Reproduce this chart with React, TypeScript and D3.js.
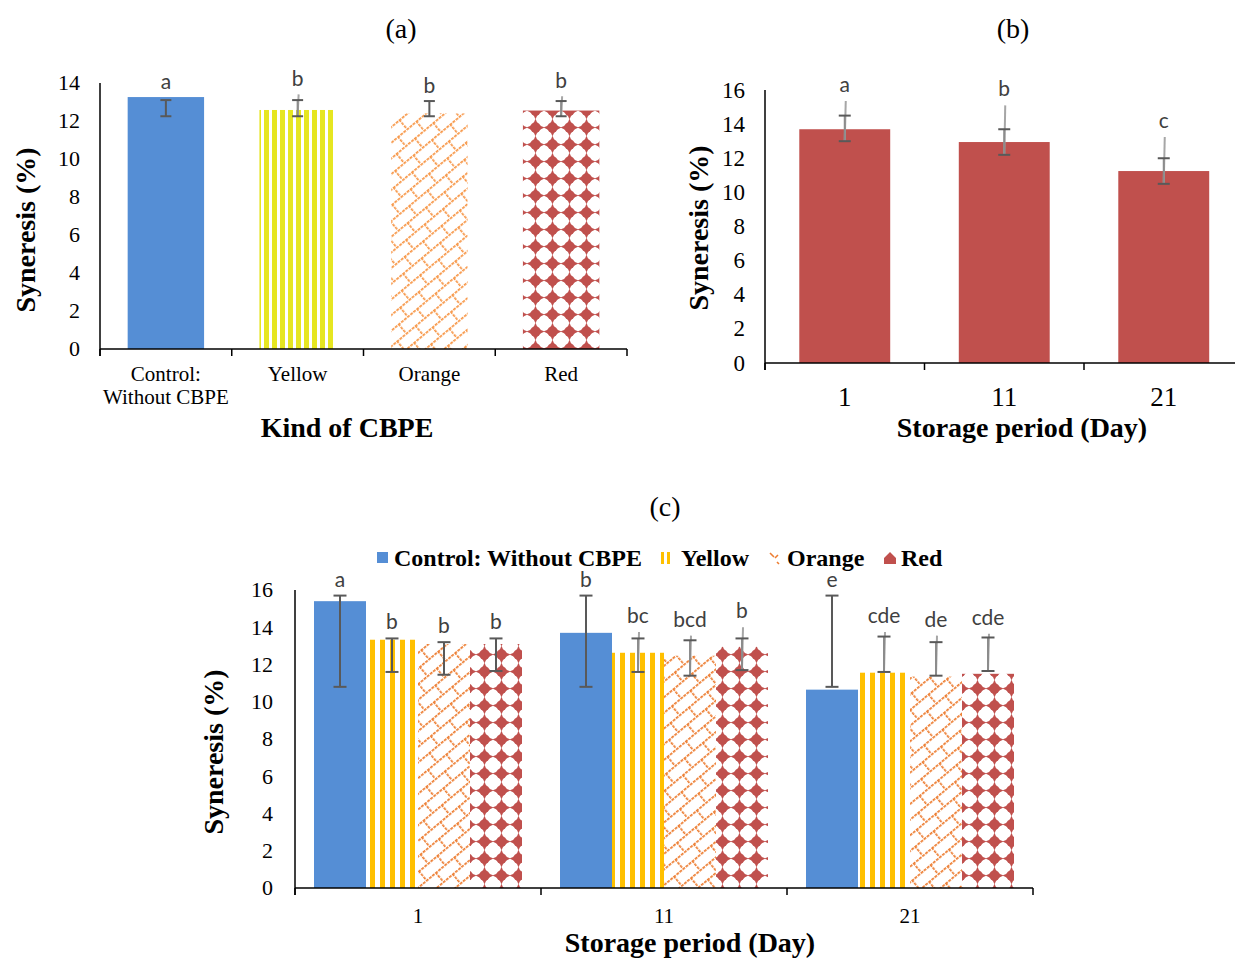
import React, { useEffect, useRef } from "react";
import * as d3 from "d3";

// (a) kind of CBPE
const kinds = ["Control: Without CBPE", "Yellow", "Orange", "Red"];
const kindLabelLines = [["Control:", "Without CBPE"], ["Yellow"], ["Orange"], ["Red"]];
const kindMeans = [13.26, 12.58, 12.4, 12.55];
const kindHigh = [13.1, 13.1, 13.05, 13.05];
const kindLow = [12.25, 12.25, 12.25, 12.25];
const kindExt = [null, 13.4, null, 13.3];
const kindLetters = ["a", "b", "b", "b"];

// (b) storage period
const days = ["1", "11", "21"];
const dayMeans = [13.7, 12.95, 11.25];
const dayHigh = [14.5, 13.7, 12.0];
const dayLow = [13.0, 12.2, 10.5];
const dayExt = [15.35, 15.1, 13.25];
const dayLetters = ["a", "b", "c"];

// (c) interaction
const series = ["Control: Without CBPE", "Yellow", "Orange", "Red"];
const controlVals = [15.4, 13.7, 10.65];
const yellowVals = [13.33, 12.63, 11.56];
const orangeVals = [13.1, 12.47, 11.35];
const redVals = [13.1, 12.95, 11.5];
const controlHigh = [15.7, 15.7, 15.7];
const controlLow = [10.8, 10.8, 10.8];
const yellowHigh = [13.4, 13.4, 13.5];
const yellowLow = [11.6, 11.6, 11.6];
const orangeHigh = [13.2, 13.3, 13.2];
const orangeLow = [11.45, 11.4, 11.4];
const redHigh = [13.4, 13.4, 13.45];
const redLow = [11.65, 11.7, 11.65];
const controlExt = [null, null, null];
const yellowExt = [null, 13.75, 13.75];
const orangeExt = [null, 13.55, 13.55];
const redExt = [null, 14.0, 13.65];
const groupLetters = [
  ["a", "b", "b", "b"],
  ["b", "bc", "bcd", "b"],
  ["e", "cde", "de", "cde"],
];

const SERIF = "'Liberation Serif', 'Times New Roman', serif";
const SANS = "Lato, 'Open Sans', sans-serif";
const DARK = "#595959";
const LIGHT = "#a6a6a6";

function errBar(g: any, cx: number, y: any, lo: number, hi: number, ext: number | null, cap: number) {
  if (ext != null) {
    g.append("line").attr("x1", cx + 1).attr("x2", cx).attr("y1", y(ext)).attr("y2", y(lo))
      .attr("stroke", LIGHT).attr("stroke-width", 2);
  }
  g.append("line").attr("x1", cx).attr("x2", cx).attr("y1", y(hi)).attr("y2", y(lo))
    .attr("stroke", ext != null ? "#8c8c8c" : DARK).attr("stroke-width", 2);
  [hi, lo].forEach(v => {
    g.append("line").attr("x1", cx - cap / 2).attr("x2", cx + cap / 2).attr("y1", y(v)).attr("y2", y(v))
      .attr("stroke", DARK).attr("stroke-width", 2);
  });
}

function letter(g: any, cx: number, yy: number, t: string) {
  g.append("text").attr("x", cx).attr("y", yy).attr("text-anchor", "middle")
    .attr("font-family", SANS).attr("font-size", 21).attr("fill", "#404040").text(t);
}

function yAxis(g: any, y: any, xAxis: number, max: number, labelRight: number, size: number) {
  g.append("line").attr("x1", xAxis).attr("x2", xAxis).attr("y1", y(max)).attr("y2", y(0) + 7)
    .attr("stroke", "black").attr("stroke-width", 1.5);
  d3.range(0, max + 1, 2).forEach(v => {
    g.append("text").attr("x", labelRight).attr("y", y(v) + size * 0.33).attr("text-anchor", "end")
      .attr("font-family", SERIF).attr("font-size", size).text(String(v));
  });
}

function xAxis(g: any, x: any, y: any, n: number) {
  const [a, b] = x.range();
  g.append("line").attr("x1", a).attr("x2", b).attr("y1", y(0)).attr("y2", y(0))
    .attr("stroke", "black").attr("stroke-width", 1.5);
  const step = (b - a) / n;
  d3.range(0, n + 1).forEach(i => {
    g.append("line").attr("x1", a + i * step).attr("x2", a + i * step).attr("y1", y(0)).attr("y2", y(0) + 7)
      .attr("stroke", "black").attr("stroke-width", 1.5);
  });
}

function text(g: any, x: number, y: number, t: string, size: number, bold = false, rotate = false) {
  const el = g.append("text").attr("text-anchor", "middle").attr("font-family", SERIF)
    .attr("font-size", size).attr("font-weight", bold ? "bold" : "normal").text(t);
  if (rotate) el.attr("transform", `translate(${x},${y}) rotate(-90)`);
  else el.attr("x", x).attr("y", y);
  return el;
}

function addPatterns(defs: any) {
  const stripes = (id: string, w: number, sw: number, color: string) => {
    const p = defs.append("pattern").attr("id", id).attr("patternUnits", "userSpaceOnUse")
      .attr("width", w).attr("height", 10);
    p.append("rect").attr("width", w).attr("height", 10).attr("fill", "white");
    p.append("rect").attr("x", 0).attr("width", sw).attr("height", 10).attr("fill", color);
  };
  stripes("yellowA", 8, 5, "#e6e620");
  stripes("yellowC", 10, 5, "#ffc000");

  // diagonal brick lattice
  const lattice = (id: string, color: string) => {
    const p = defs.append("pattern").attr("id", id).attr("patternUnits", "userSpaceOnUse")
      .attr("width", 24).attr("height", 24).attr("patternTransform", "rotate(-40)");
    p.append("rect").attr("width", 24).attr("height", 24).attr("fill", "white");
    p.append("path").attr("d", "M0,0.8 H24 M0,12.8 H24 M0.8,0 V12 M12.8,12 V24")
      .attr("stroke", color).attr("stroke-width", 1.7).attr("fill", "none")
      .attr("stroke-dasharray", "3,1");
  };
  lattice("orangeA", "#f79646");
  lattice("orangeC", "#ed7d31");

  const p = defs.append("pattern").attr("id", "redDiamond").attr("patternUnits", "userSpaceOnUse")
    .attr("width", 17).attr("height", 17);
  p.append("rect").attr("width", 17).attr("height", 17).attr("fill", "white");
  p.append("path").attr("d", "M8.5,-0.5 Q10,6 17.5,8.5 Q10,11 8.5,17.5 Q7,11 -0.5,8.5 Q7,6 8.5,-0.5 Z")
    .attr("fill", "#c0504d");
  p.append("circle").attr("cx", 8.5).attr("cy", 8.5).attr("r", 5.2).attr("fill", "#c0504d");
}

export default function App() {
  const ref = useRef<SVGSVGElement>(null);

  useEffect(() => {
    const svg = d3.select(ref.current);
    svg.selectAll("*").remove();
    const defs = svg.append("defs");
    addPatterns(defs);

    // ---------- (a)
    const ga = svg.append("g");
    const ya = d3.scaleLinear().domain([0, 14]).range([349, 83]);
    const xa = d3.scaleBand().domain(kinds).range([100, 627]).paddingInner(0.42).paddingOuter(0.21);
    const fillsA = ["#558ed5", "url(#yellowA)", "url(#orangeA)", "url(#redDiamond)"];
    kinds.forEach((k, i) => {
      ga.append("rect").attr("x", xa(k)!).attr("y", ya(kindMeans[i])).attr("width", xa.bandwidth())
        .attr("height", ya(0) - ya(kindMeans[i])).attr("fill", fillsA[i]);
    });
    kinds.forEach((k, i) => {
      const cx = xa(k)! + xa.bandwidth() / 2;
      errBar(ga, cx, ya, kindLow[i], kindHigh[i], kindExt[i], 11);
      const top = Math.max(kindMeans[i], kindHigh[i], kindExt[i] ?? 0);
      letter(ga, cx, ya(top) - 8, kindLetters[i]);
    });
    yAxis(ga, ya, 100, 14, 80, 22);
    xAxis(ga, xa, ya, kinds.length);
    kinds.forEach((k, i) => {
      const cx = xa(k)! + xa.bandwidth() / 2;
      kindLabelLines[i].forEach((ln, j) => {
        ga.append("text").attr("x", cx).attr("y", 381 + j * 23).attr("text-anchor", "middle")
          .attr("font-family", SERIF).attr("font-size", 21).text(ln);
      });
    });
    text(ga, 347, 437, "Kind of CBPE", 28, true);
    text(ga, 35, 230, "Syneresis (%)", 28, true, true);
    text(ga, 401, 38, "(a)", 28);

    // ---------- (b)
    const gb = svg.append("g");
    const yb = d3.scaleLinear().domain([0, 16]).range([363, 90]);
    const xb = d3.scaleBand().domain(days).range([765, 1243.5]).paddingInner(0.43).paddingOuter(0.215);
    days.forEach((d, i) => {
      gb.append("rect").attr("x", xb(d)!).attr("y", yb(dayMeans[i])).attr("width", xb.bandwidth())
        .attr("height", yb(0) - yb(dayMeans[i])).attr("fill", "#c0504d");
    });
    days.forEach((d, i) => {
      const cx = xb(d)! + xb.bandwidth() / 2;
      errBar(gb, cx, yb, dayLow[i], dayHigh[i], dayExt[i], 12);
      letter(gb, cx, yb(dayExt[i]) - 9, dayLetters[i]);
    });
    yAxis(gb, yb, 765, 16, 745, 23);
    xAxis(gb, xb, yb, days.length);
    days.forEach(d => {
      gb.append("text").attr("x", xb(d)! + xb.bandwidth() / 2).attr("y", 406).attr("text-anchor", "middle")
        .attr("font-family", SERIF).attr("font-size", 27).text(d);
    });
    text(gb, 1022, 437, "Storage period (Day)", 28, true);
    text(gb, 708, 228, "Syneresis (%)", 28, true, true);
    text(gb, 1013, 38, "(b)", 28);

    // ---------- (c)
    const gc = svg.append("g");
    const yc = d3.scaleLinear().domain([0, 16]).range([888, 590]);
    const x0 = d3.scaleBand().domain(days).range([295, 1033]);
    const x1 = d3.scaleBand().domain(series).range([19, x0.bandwidth() - 19]);
    const vals = [controlVals, yellowVals, orangeVals, redVals];
    const highs = [controlHigh, yellowHigh, orangeHigh, redHigh];
    const lows = [controlLow, yellowLow, orangeLow, redLow];
    const exts = [controlExt, yellowExt, orangeExt, redExt];
    const fillsC = ["#558ed5", "url(#yellowC)", "url(#orangeC)", "url(#redDiamond)"];
    days.forEach((d, gi) => {
      series.forEach((s, si) => {
        const v = vals[si][gi];
        gc.append("rect").attr("x", x0(d)! + x1(s)!).attr("y", yc(v)).attr("width", x1.bandwidth())
          .attr("height", yc(0) - yc(v)).attr("fill", fillsC[si]);
      });
    });
    days.forEach((d, gi) => {
      series.forEach((s, si) => {
        const cx = x0(d)! + x1(s)! + x1.bandwidth() / 2;
        const ext = exts[si][gi];
        errBar(gc, cx, yc, lows[si][gi], highs[si][gi], ext, 13);
        const top = Math.max(highs[si][gi], ext ?? 0, vals[si][gi]);
        letter(gc, cx, yc(top) - 9, groupLetters[gi][si]);
      });
    });
    yAxis(gc, yc, 295, 16, 273, 22);
    xAxis(gc, x0, yc, days.length);
    days.forEach(d => {
      gc.append("text").attr("x", x0(d)! + x0.bandwidth() / 2).attr("y", 923).attr("text-anchor", "middle")
        .attr("font-family", SERIF).attr("font-size", 21).text(d);
    });
    text(gc, 690, 952, "Storage period (Day)", 28, true);
    text(gc, 223, 752, "Syneresis (%)", 28, true, true);
    text(gc, 665, 516, "(c)", 28);

    // legend
    const lg = gc.append("g").attr("font-family", SERIF).attr("font-size", 24).attr("font-weight", "bold");
    const legX = [377, 661, 770, 884];
    series.forEach((s, i) => {
      const lx = legX[i];
      if (i === 0) lg.append("rect").attr("x", lx).attr("y", 552).attr("width", 11).attr("height", 11).attr("fill", "#558ed5");
      if (i === 1) {
        lg.append("rect").attr("x", lx).attr("y", 552).attr("width", 3).attr("height", 12).attr("fill", "#ffc000");
        lg.append("rect").attr("x", lx + 6).attr("y", 552).attr("width", 3).attr("height", 12).attr("fill", "#ffc000");
      }
      if (i === 2) {
        lg.append("path").attr("d", `M${lx},${553} l4,4 M${lx + 8},${555} l-3,3 M${lx + 7},${562} l2,2`)
          .attr("stroke", "#ed7d31").attr("stroke-width", 1.6);
      }
      if (i === 3) {
        lg.append("path").attr("d", `M${lx + 6},${552} l6,6 h-12 Z M${lx},${558} h12 v6 h-12 Z`).attr("fill", "#c0504d");
      }
      lg.append("text").attr("x", lx + (i === 0 ? 17 : i === 1 ? 20 : 17)).attr("y", 566).text(s);
    });
  }, []);

  return (
    <svg ref={ref} width={1235} height={959} style={{ position: "absolute", left: 0, top: 0, background: "white" }} />
  );
}
